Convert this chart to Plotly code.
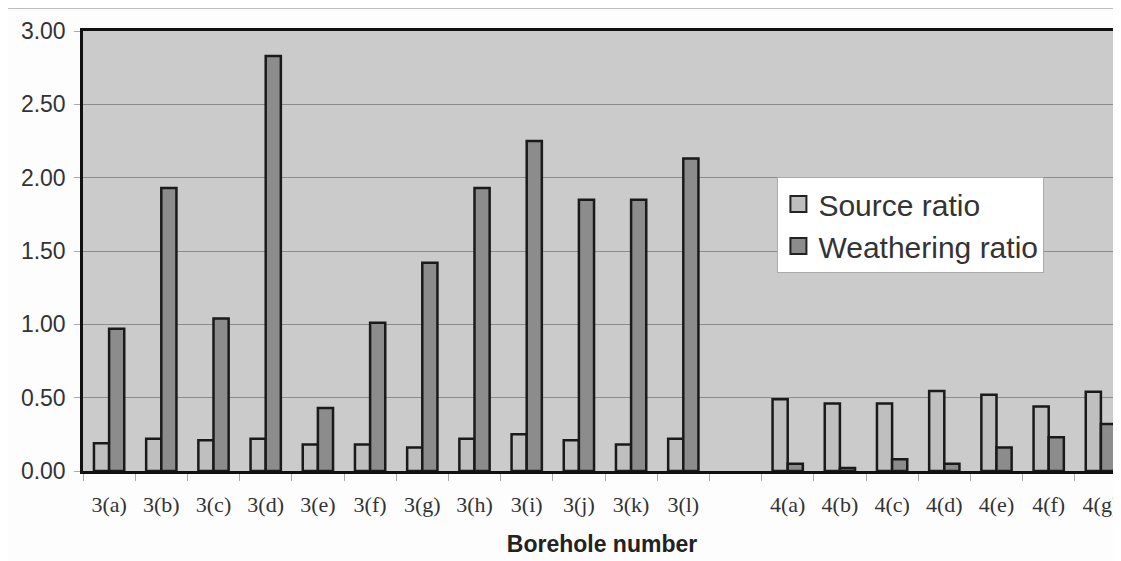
import plotly.graph_objects as go

categories = ["3(a)", "3(b)", "3(c)", "3(d)", "3(e)", "3(f)", "3(g)", "3(h)", "3(i)", "3(j)", "3(k)", "3(l)",
              " ",
              "4(a)", "4(b)", "4(c)", "4(d)", "4(e)", "4(f)", "4(g)"]
boreholes = ["3(a)", "3(b)", "3(c)", "3(d)", "3(e)", "3(f)", "3(g)", "3(h)", "3(i)", "3(j)", "3(k)", "3(l)",
             "4(a)", "4(b)", "4(c)", "4(d)", "4(e)", "4(f)", "4(g)"]
source_ratio = [0.19, 0.22, 0.21, 0.22, 0.18, 0.18, 0.16, 0.22, 0.25, 0.21, 0.18, 0.22,
                0.49, 0.46, 0.46, 0.545, 0.52, 0.44, 0.54]
weathering_ratio = [0.97, 1.93, 1.04, 2.83, 0.43, 1.01, 1.42, 1.93, 2.25, 1.85, 1.85, 2.13,
                    0.05, 0.02, 0.08, 0.05, 0.16, 0.23, 0.32]
series_names = ["Source ratio", "Weathering ratio"]
series_colors = ["#bfbfbf", "#8c8c8c"]
y_ticks = [0, 0.5, 1.0, 1.5, 2.0, 2.5, 3.0]

fig = go.Figure()
for name, vals, col in zip(series_names, [source_ratio, weathering_ratio], series_colors):
    fig.add_trace(go.Bar(name=name, x=boreholes, y=vals, showlegend=False,
                         marker=dict(color=col, line=dict(color="#1a1a1a", width=2.5))))
# legend entries with larger square swatches
for name, col in zip(series_names, series_colors):
    fig.add_trace(go.Scatter(name=name, x=[None], y=[None], mode="markers",
                             marker=dict(symbol="square", size=18, color=col,
                                         line=dict(color="#222222", width=2))))

fig.update_layout(
    width=1113, height=553,
    margin=dict(l=75, r=0, t=23, b=90),
    paper_bgcolor="#fdfdfd",
    plot_bgcolor="#cbcbcb",
    barmode="group",
    bargap=0.42,
    bargroupgap=0.0,
    font=dict(family="Liberation Sans, Arial, sans-serif", color="#333333"),
    legend=dict(x=0.669, y=0.668, xanchor="left", yanchor="top",
                bgcolor="#ffffff", bordercolor="#aaaaaa", borderwidth=1,
                font=dict(size=30, color="#333333"),
                itemsizing="trace", itemwidth=30),
    showlegend=True,
)
fig.update_xaxes(
    type="category", categoryorder="array", categoryarray=categories,
    range=[-0.5, 19.385],
    tickson="boundaries", ticks="outside", ticklen=7, tickcolor="#aaaaaa",
    ticklabelstandoff=12,
    tickfont=dict(family="Liberation Serif, Times New Roman, serif", size=22, color="#333333"),
    showline=True, mirror=True, linecolor="#111111", linewidth=2.5,
    showgrid=False,
    title=dict(text="<b>Borehole number</b>", font=dict(size=23, color="#222222"), standoff=20),
)
fig.update_yaxes(
    range=[0, 3.0], tickvals=y_ticks, tickformat=".2f",
    ticks="outside", ticklen=6, tickcolor="#aaaaaa",
    ticklabelstandoff=4,
    tickfont=dict(size=23, color="#333333"),
    showline=True, linecolor="#111111", linewidth=2.5,
    showgrid=True, gridcolor="#8c8c8c", gridwidth=1,
    zeroline=False,
)
fig.add_shape(type="line", xref="paper", yref="paper",
              x0=-0.08, x1=1.0, y0=1.051, y1=1.051,
              line=dict(color="#bbbbbb", width=1), layer="below")

fig.write_html("out.html")
